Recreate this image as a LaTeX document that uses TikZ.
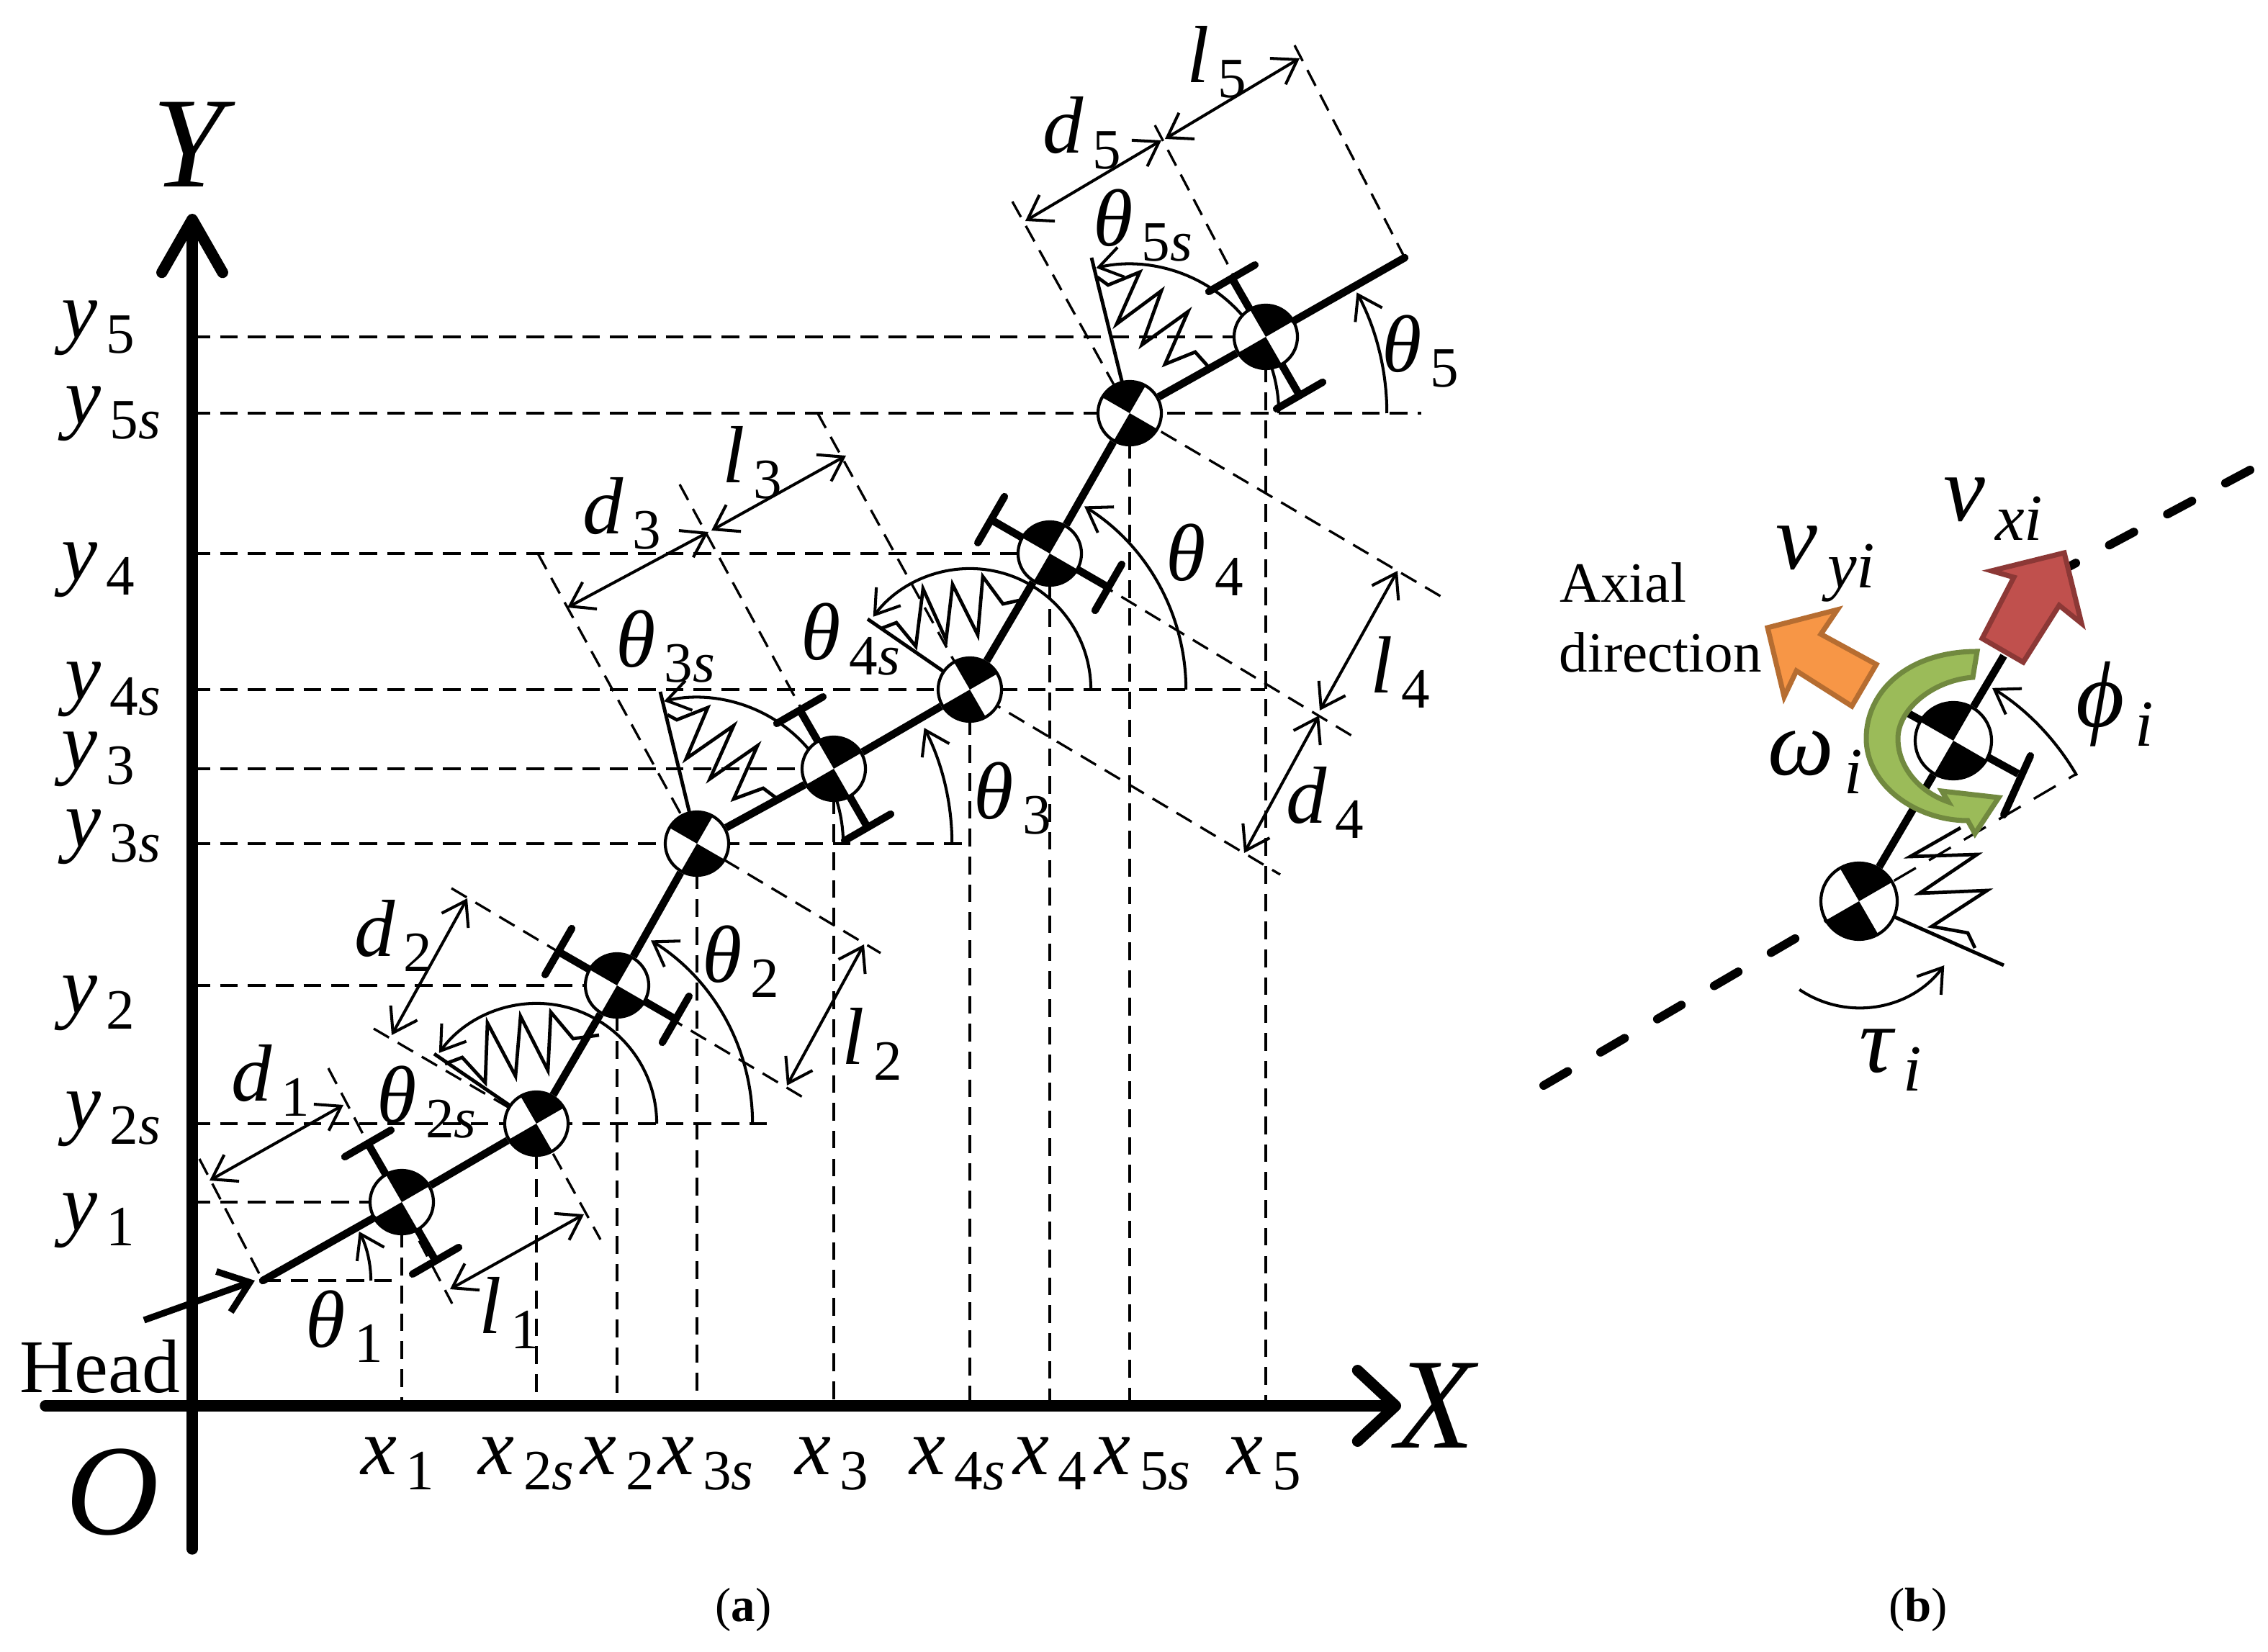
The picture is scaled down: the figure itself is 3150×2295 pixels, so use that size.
\documentclass[tikz,border=0pt]{standalone}
\usepackage{fontspec}
\setmainfont{Liberation Serif}
\usetikzlibrary{arrows.meta,calc}
\definecolor{redf}{HTML}{C0504D}\definecolor{redd}{HTML}{8C3836}
\definecolor{orf}{HTML}{F79646}\definecolor{ord}{HTML}{B66D31}
\definecolor{grf}{HTML}{9BBB59}\definecolor{grd}{HTML}{71893F}
\tikzset{
  x=0.01cm,y=0.01cm,
  txt/.style={inner sep=0pt,font=\fontsize{32}{36}\selectfont},
  bigt/.style={inner sep=0pt,font=\fontsize{51}{56}\selectfont\itshape},
  serift/.style={inner sep=0pt,font=\fontsize{#1}{#1}\selectfont},
  dashl/.style={line width=0.95pt,dash pattern=on 7pt off 4pt},
  dimline/.style={line width=1.15pt,{Straight Barb[length=9pt,width=12pt]}-{Straight Barb[length=9pt,width=12pt]}},
  angarrow/.style={line width=1.15pt,-{Straight Barb[length=9pt,width=12pt]}},
  springl/.style={line width=1.35pt,line join=miter},
  wall/.style={line width=1.4pt},
  body/.style={line width=3pt},
  bar/.style={line width=2.9pt,line cap=round},
  axis/.style={line width=4.4pt,line cap=round},
  thickdash/.style={line width=3.4pt,line cap=round,dash pattern=on 11pt off 15pt},
  wheelnode/.style={circle,draw=black,line width=1.2pt,fill=white,inner sep=0pt,minimum size=.88cm},
}
\newcommand\wheel[3]{%
  \node[wheelnode] (#1) at (#2) {};
  \fill (#2) -- ++(#3:.44cm) arc[start angle=#3,delta angle=90,radius=.44cm] -- cycle;
  \fill (#2) -- ++({#3+180}:.44cm) arc[start angle={#3+180},delta angle=90,radius=.44cm] -- cycle;
}
\newcommand\tbar[3]{% centre, axis direction, link direction
  \draw[bar] (#1) ++(#2:.94cm) ++(#3:.37cm) -- ++({#3+180}:.74cm);
  \draw[bar] (#1) ++({#2+180}:.94cm) ++(#3:.37cm) -- ++({#3+180}:.74cm);
  \draw[body] (#1) ++(#2:.94cm) -- ++({#2+180}:1.88cm);
}
\newcommand\sy[2]{{\itshape #1}\kern 3.5pt\raisebox{-6pt}{\fontsize{22.5}{22}\selectfont #2}}
\newcommand\syb[2]{{\fontsize{37}{40}\selectfont\itshape #1}\kern 4pt\raisebox{-7.5pt}{\fontsize{26}{26}\selectfont #2}}
\newcommand\lbl[4]{\node[txt] (#1) at ({#2*2.009},{-#3*2.009}) {#4};}
\newcommand\si{\textit{s}}
\newcommand\ii{\textit{i}}
\begin{document}
\begin{tikzpicture}
\useasboundingbox (0,0) rectangle (3150,-2295);
% centres
\coordinate (O) at (267,-1953);
\coordinate (hd) at (365,-1779);
\coordinate (c1) at (558,-1670);
\coordinate (c2s) at (745,-1561);
\coordinate (c2) at (857,-1369);
\coordinate (c3s) at (968,-1172);
\coordinate (c3) at (1158,-1068);
\coordinate (c4s) at (1347,-958);
\coordinate (c4) at (1458,-769);
\coordinate (c5s) at (1569,-574);
\coordinate (c5) at (1758,-468);
\coordinate (tl) at (1951,-358);
% horizontal dashes
\foreach \c in {c1,c2,c3,c4,c5}{\draw[dashl] (O |- \c) -- (\c);}
\coordinate (e2s) at (1077,-1561);\coordinate (e3s) at (1338,-1172);
\coordinate (e4s) at (1757,-958);\coordinate (e5s) at (1974,-574);
\coordinate (eh) at (544,-1779);
\draw[dashl] (O |- c2s) -- (e2s);
\draw[dashl] (O |- c3s) -- (e3s);
\draw[dashl] (O |- c4s) -- (e4s);
\draw[dashl] (O |- c5s) -- (e5s);
\draw[dashl] (hd) -- (eh);
% vertical dashes
\foreach \c in {c1,c2s,c2,c3s,c3,c4s,c4,c5s,c5}{\draw[dashl] (\c) -- (\c |- O);}
% extension lines
\draw[dashl] (277,-1610) -- (hd);
\draw[dashl] (456,-1484) -- (628,-1811);
\draw[dashl] (519,-1429) -- (c2s) -- (834,-1722);
\draw[dashl] (627,-1234) -- (1123,-1529);
\draw[dashl] (747,-769) -- (c3s) -- (1223,-1324);
\draw[dashl] (944,-673) -- (c3);
\draw[dashl] (1135,-573) -- (c4s) -- (1778,-1215);
\draw[dashl] (c4) -- (1884,-1026);
\draw[dashl] (1406,-280) -- (c5s) -- (2002,-829);
\draw[dashl] (1604,-174) -- (c5);
\draw[dashl] (1798,-63) -- (tl);
% dimension arrows
\coordinate (d1a) at (291,-1640);\coordinate (d1b) at (477,-1535);
\coordinate (l1a) at (625,-1791);\coordinate (l1b) at (811,-1687);
\coordinate (d2a) at (544,-1438);\coordinate (d2b) at (649,-1248);
\coordinate (l2a) at (1093,-1508);\coordinate (l2b) at (1200,-1312);
\coordinate (d3a) at (788,-844);\coordinate (d3b) at (984,-739);
\coordinate (l3a) at (988,-737);\coordinate (l3b) at (1175,-633);
\coordinate (d4a) at (1728,-1185);\coordinate (d4b) at (1832,-994);
\coordinate (l4a) at (1833,-987);\coordinate (l4b) at (1941,-793);
\coordinate (d5a) at (1424,-307);\coordinate (d5b) at (1613,-195);
\coordinate (l5a) at (1618,-193);\coordinate (l5b) at (1805,-81);
\foreach \n in {d1,l1,d2,l2,d3,l3,d4,l4,d5,l5}{\draw[dimline] (\n a) -- (\n b);}
% springs and walls
\draw[wall] (c2s) -- (603,-1464);
\draw[springl] (832,-1438) -- (796,-1443) -- (765,-1406) -- (761,-1487) -- (723,-1412) -- (716,-1495) -- (677,-1421) -- (674,-1504) -- (642,-1469) -- (618,-1478);
\draw[wall] (c3s) -- (917,-961);
\draw[springl] (1080,-1110) -- (1060,-1095) -- (1019,-1110) -- (1052,-1036) -- (986,-1082) -- (1019,-1008) -- (953,-1054) -- (983,-983) -- (940,-1000) -- (927,-993);
\draw[wall] (c4s) -- (1205,-860);
\draw[springl] (1416,-834) -- (1393,-839) -- (1365,-801) -- (1358,-882) -- (1323,-812) -- (1314,-889) -- (1282,-818) -- (1272,-898) -- (1245,-865) -- (1224,-873);
\draw[wall] (c5s) -- (1516,-358);
\draw[springl] (1677,-508) -- (1660,-489) -- (1618,-506) -- (1650,-433) -- (1586,-479) -- (1613,-404) -- (1551,-450) -- (1583,-378) -- (1539,-396) -- (1524,-385);
% angle arcs
\draw[angarrow] (hd) ++(0:1.5cm) arc[start angle=0,end angle=27,radius=1.5cm];
\draw[angarrow] (c2s) ++(0:1.67cm) arc[start angle=0,end angle=144,radius=1.67cm];
\draw[angarrow] (c2s) ++(0:3cm) arc[start angle=0,end angle=58,radius=3cm];
\draw[angarrow] (c3s) ++(0:2.03cm) arc[start angle=0,end angle=103,radius=2.03cm];
\draw[angarrow] (c3s) ++(0:3.54cm) arc[start angle=0,end angle=27,radius=3.54cm];
\draw[angarrow] (c4s) ++(0:1.68cm) arc[start angle=0,end angle=143,radius=1.68cm];
\draw[angarrow] (c4s) ++(0:3cm) arc[start angle=0,end angle=58,radius=3cm];
\draw[angarrow] (c5s) ++(0:2.07cm) arc[start angle=0,end angle=103,radius=2.07cm];
\draw[angarrow] (c5s) ++(0:3.57cm) arc[start angle=0,end angle=28,radius=3.57cm];
% T bars
\tbar{c1}{120}{30}
\tbar{c2}{150}{60}
\tbar{c3}{120}{30}
\tbar{c4}{150}{60}
\tbar{c5}{120}{30}
% wheels
\wheel{n1}{c1}{30}
\wheel{n2s}{c2s}{30}
\wheel{n2}{c2}{60}
\wheel{n3s}{c3s}{60}
\wheel{n3}{c3}{30}
\wheel{n4s}{c4s}{30}
\wheel{n4}{c4}{60}
\wheel{n5s}{c5s}{60}
\wheel{n5}{c5}{30}
% body
\draw[body,line cap=round] (hd) -- (n1);
\draw[body] (n1) -- (n2s);
\draw[body] (n2s) -- (n2);
\draw[body] (n2) -- (n3s);
\draw[body] (n3s) -- (n3);
\draw[body] (n3) -- (n4s);
\draw[body] (n4s) -- (n4);
\draw[body] (n4) -- (n5s);
\draw[body] (n5s) -- (n5);
\draw[body,line cap=round] (n5) -- (tl);
% head arrow
\coordinate (hs) at (200,-1834);
\draw[line width=2.6pt,-{Straight Barb[length=11pt,width=17pt]}] (hs) -- (354,-1779);
% axes
\coordinate (xs) at (63,-1953);\coordinate (xe) at (1946,-1953);
\coordinate (ys) at (267,-2152);\coordinate (ye) at (267,-297);
\draw[axis,-{Straight Barb[length=15pt,width=28pt,round]}] (xs) -- (xe);
\draw[axis,-{Straight Barb[length=21pt,width=24pt,round]}] (ys) -- (ye);
% labels panel a
\node[bigt] (Ylab) at ({130*2.009},{-100*2.009}) {Y};
\node[bigt] (Xlab) at ({992*2.009},{-972*2.009}) {X};
\node[bigt] (Olab) at ({78*2.009},{-1032*2.009}) {O};
\node[serift=30] (headl) at ({69*2.009},{-945*2.009}) {Head};
\lbl{y5}{68}{227}{\sy{y}{5}}
\lbl{y5s}{78}{286}{\sy{y}{5\si}}
\lbl{y4}{68}{394}{\sy{y}{4}}
\lbl{y4s}{78}{477}{\sy{y}{4\si}}
\lbl{y3}{68}{525}{\sy{y}{3}}
\lbl{y3s}{78}{579}{\sy{y}{3\si}}
\lbl{y2}{68}{694}{\sy{y}{2}}
\lbl{y2s}{78}{774}{\sy{y}{2\si}}
\lbl{y1}{68}{844}{\sy{y}{1}}
\lbl{x1}{275}{1012}{\sy{x}{1}}
\lbl{x2s}{364}{1012}{\sy{x}{2\si}}
\lbl{x2}{427}{1012}{\sy{x}{2}}
\lbl{x3s}{488}{1012}{\sy{x}{3\si}}
\lbl{x3}{575}{1012}{\sy{x}{3}}
\lbl{x4s}{662}{1012}{\sy{x}{4\si}}
\lbl{x4}{726}{1012}{\sy{x}{4}}
\lbl{x5s}{790}{1012}{\sy{x}{5\si}}
\lbl{x5}{874}{1012}{\sy{x}{5}}
\lbl{ld1}{187}{747}{\sy{d}{1}}
\lbl{ll1}{352}{908}{\sy{l}{1}}
\lbl{t1}{238}{917}{\sy{θ}{1}}
\lbl{t2s}{295}{762}{\sy{θ}{2\si}}
\lbl{ld2}{272}{647}{\sy{d}{2}}
\lbl{t2}{512}{665}{\sy{θ}{2}}
\lbl{ll2}{603}{722}{\sy{l}{2}}
\lbl{ld3}{430}{355}{\sy{d}{3}}
\lbl{ll3}{520}{320}{\sy{l}{3}}
\lbl{t3s}{460}{447}{\sy{θ}{3\si}}
\lbl{t3}{700}{552}{\sy{θ}{3}}
\lbl{t4s}{588}{442}{\sy{θ}{4\si}}
\lbl{t4}{833}{387}{\sy{θ}{4}}
\lbl{ll4}{968}{465}{\sy{l}{4}}
\lbl{ld4}{916}{555}{\sy{d}{4}}
\lbl{t5s}{790}{156}{\sy{θ}{5\si}}
\lbl{t5}{982}{243}{\sy{θ}{5}}
\lbl{ld5}{748}{92}{\sy{d}{5}}
\lbl{ll5}{841}{43}{\sy{l}{5}}
\node[serift=19] (capa) at ({514*2.009},{-1113*2.009}) {(\textbf{a})};
\node[serift=19] (capb) at ({1326*2.009},{-1113*2.009}) {(\textbf{b})};
% panel b
\coordinate (bn) at (2582,-1252);
\coordinate (bu) at (2713,-1029);
\coordinate (bd1) at (2144,-1508);
\coordinate (bd2) at (2874,-787);
\coordinate (bd3) at (3125,-653);
\coordinate (bpe) at (2884,-1075);
\coordinate (bl) at (2783,-911);
\draw[thickdash] (bd3) -- (bd2);
\draw[thickdash] (bd1) -- (bn);
\draw[dashl,dash pattern=on 10pt off 6pt] (bn) -- (bpe);
\draw[wall] (bn) -- (2783,-1341);
\draw[springl] (2743,-1317) -- (2733,-1296) -- (2683,-1287) -- (2760,-1237) -- (2666,-1241) -- (2746,-1187) -- (2653,-1190) -- (2723,-1150);
\draw[angarrow] (bn) ++(30:3.49cm) arc[start angle=30,end angle=58,radius=3.49cm];
\draw[angarrow] (bn) ++(236:1.48cm) arc[start angle=236,end angle=323,radius=1.48cm];
\draw[bar] (2820,-1050) -- (2783,-1132);
\draw[body] (2643,-987) -- (2803,-1075);
\node[wheelnode,minimum size=1.06cm] (bnu) at (bu) {};
\fill (bu) -- ++(60:.53cm) arc[start angle=60,delta angle=90,radius=.53cm] -- cycle;
\fill (bu) -- ++(240:.53cm) arc[start angle=240,delta angle=90,radius=.53cm] -- cycle;
\node[wheelnode,minimum size=1.06cm] (bnl) at (bn) {};
\fill (bn) -- ++(30:.53cm) arc[start angle=30,delta angle=90,radius=.53cm] -- cycle;
\fill (bn) -- ++(210:.53cm) arc[start angle=210,delta angle=90,radius=.53cm] -- cycle;
\draw[body] (bnl) -- (bnu);
\draw[body] (bnu) -- (bl);
\draw[line width=2pt,line join=miter,fill=redf,draw=redd] (2867,-768) -- (2891,-866) -- (2860,-841) -- (2810,-920) -- (2753,-887) -- (2797,-802) -- (2766,-793) -- cycle;
\draw[line width=2pt,line join=miter,fill=orf,draw=ord] (2455,-872) -- (2552,-847) -- (2529,-881) -- (2606,-923) -- (2572,-981) -- (2495,-932) -- (2478,-968) -- cycle;
\draw[line width=2pt,line join=miter,fill=grf,draw=grd] (2746,-905) .. controls (2650,-905) and (2592,-960) .. (2592,-1026) .. controls (2592,-1090) and (2660,-1140) .. (2733,-1140) -- (2743,-1158) -- (2776,-1108) -- (2697,-1099) -- (2706,-1114) .. controls (2665,-1100) and (2636,-1065) .. (2636,-1026) .. controls (2636,-985) and (2685,-945) .. (2740,-941) -- cycle;
\lbl{vx}{1378}{352}{\syb{v}{\textit{xi}}}
\lbl{vy}{1262}{390}{\syb{v}{\textit{yi}}}
\lbl{ph}{1462}{487}{\syb{ϕ}{\ii}}
\lbl{om}{1255}{527}{\syb{ω}{\ii}}
\lbl{ta}{1307}{733}{\syb{τ}{\ii}}
\node[serift=22.5] (ax1) at ({1122*2.009},{-403*2.009}) {Axial};
\node[serift=22.5] (ax2) at ({1148*2.009},{-451*2.009}) {direction};
\end{tikzpicture}
\end{document}
